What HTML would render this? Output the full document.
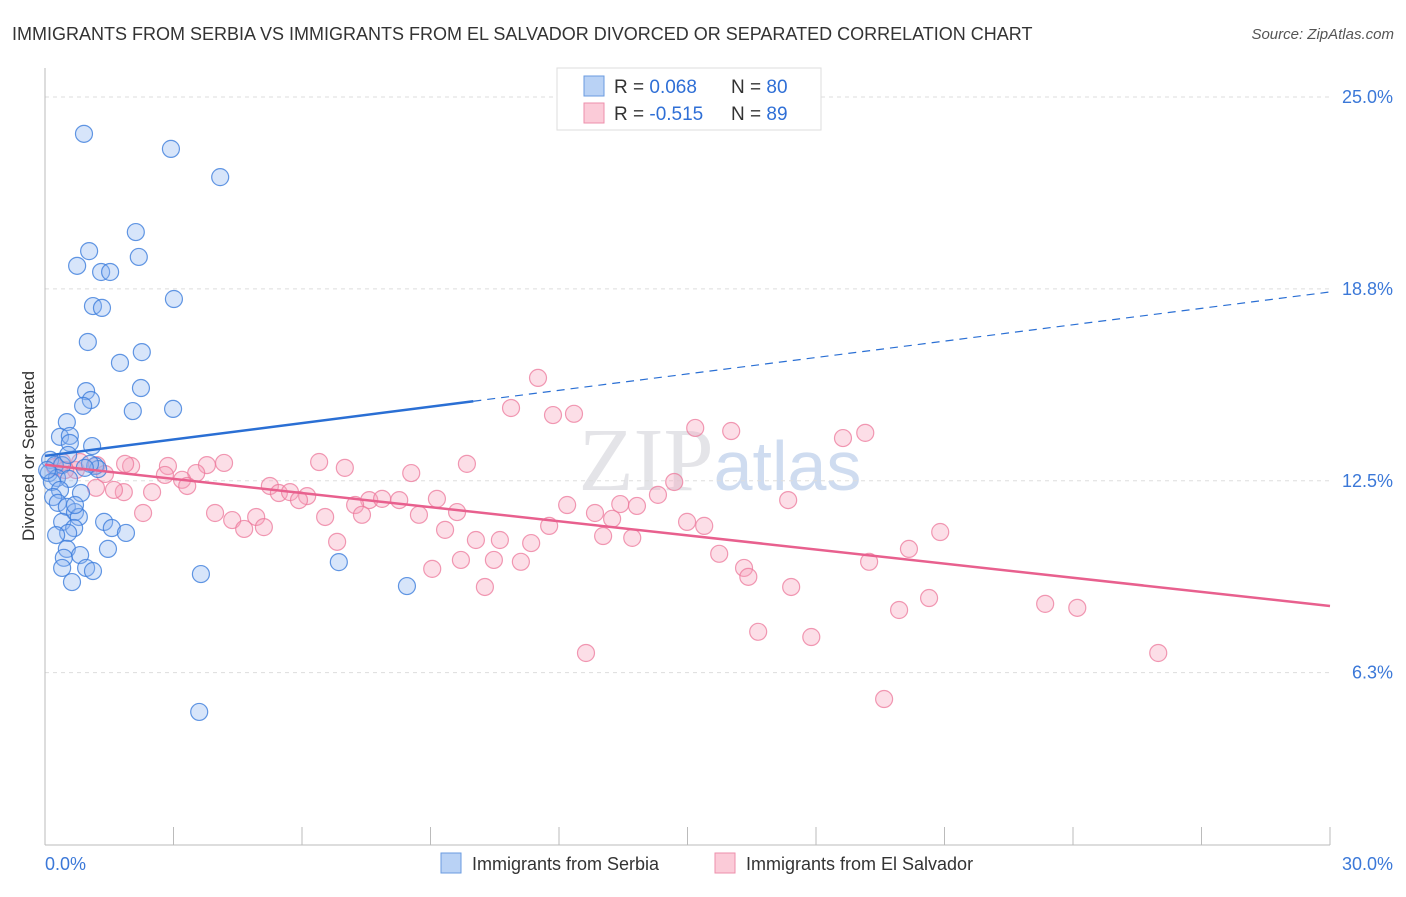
<!DOCTYPE html>
<html><head><meta charset="utf-8"><style>
body{margin:0;background:#fff;font-family:"Liberation Sans",sans-serif}
</style></head><body>
<svg id="c" width="1406" height="892" xmlns="http://www.w3.org/2000/svg">
<text x="12" y="40" font-size="18" fill="#333">IMMIGRANTS FROM SERBIA VS IMMIGRANTS FROM EL SALVADOR DIVORCED OR SEPARATED CORRELATION CHART</text>
<text x="1394" y="39" font-size="15" fill="#555" font-style="italic" text-anchor="end">Source: ZipAtlas.com</text>
<text x="720" y="490" font-size="90" fill="#e4e4e8" text-anchor="middle" font-family="Liberation Serif">ZIP<tspan fill="#cfdcf0" font-family="Liberation Sans" font-size="70">atlas</tspan></text>
<g id="grid"></g><g id="axes"></g><g id="pts"></g><g id="lines"></g>
<text transform="translate(34,456) rotate(-90)" font-size="17" fill="#333" text-anchor="middle">Divorced or Separated</text>
<g>
<rect x="557" y="68" width="264" height="62" fill="#fff" stroke="#ddd"/>
<rect x="584" y="76" width="20" height="20" fill="#b9d2f5" stroke="#6a9be0"/>
<rect x="584" y="103" width="20" height="20" fill="#fbcbd8" stroke="#ee8fab"/>
<text x="614" y="93" font-size="19" fill="#333">R = <tspan fill="#2f6fd6">0.068</tspan><tspan x="731">N = </tspan><tspan fill="#2f6fd6">80</tspan></text>
<text x="614" y="120" font-size="19" fill="#333">R = <tspan fill="#2f6fd6">-0.515</tspan><tspan x="731">N = </tspan><tspan fill="#2f6fd6">89</tspan></text>
</g>
<g>
<rect x="441" y="853" width="20" height="20" fill="#b9d2f5" stroke="#6a9be0"/>
<text x="472" y="870" font-size="18" fill="#333">Immigrants from Serbia</text>
<rect x="715" y="853" width="20" height="20" fill="#fbcbd8" stroke="#ee8fab"/>
<text x="746" y="870" font-size="18" fill="#333">Immigrants from El Salvador</text>
</g>
</svg>
<script>
const yTicks=[25,18.75,12.5,6.25];
const yTickLabels=["25.0%","18.8%","12.5%","6.3%"];
const xLabels=["0.0%","30.0%"];
const serbiaX=[0.91,2.94,4.09,2.12,1.03,2.19,0.75,1.31,1.52,3.01,1.12,1.33,1.00,2.26,1.75,0.96,2.24,1.07,0.89,2.05,2.99,0.51,0.35,0.58,0.58,1.10,0.12,0.23,0.40,1.17,1.24,0.09,0.28,0.56,0.16,0.35,0.84,0.19,0.30,0.51,0.70,0.40,0.79,1.38,1.56,0.68,0.54,0.26,1.89,1.47,0.51,0.44,0.82,0.96,0.40,1.12,0.63,3.64,6.86,8.45,3.60,0.05,1.05,0.70,0.54,0.93];
const serbiaY=[23.8,23.31,22.39,20.6,19.98,19.79,19.5,19.3,19.3,18.42,18.19,18.13,17.02,16.69,16.34,15.42,15.52,15.13,14.94,14.77,14.84,14.41,13.93,13.96,13.73,13.63,13.18,13.01,13.01,12.98,12.88,12.75,12.59,12.56,12.46,12.2,12.1,11.97,11.78,11.65,11.48,11.16,11.32,11.16,10.96,10.96,10.8,10.73,10.8,10.28,10.28,9.99,10.08,9.66,9.66,9.56,9.2,9.46,9.85,9.07,4.97,12.85,13.05,11.71,13.34,12.92];
const salvX=[11.51,10.88,11.86,12.35,15.18,16.02,18.63,19.15,9.85,6.40,7.00,8.55,4.18,3.78,2.87,2.01,1.21,0.40,0.23,0.72,1.40,2.80,3.53,3.20,3.32,5.25,5.46,5.72,6.12,5.93,1.84,1.19,1.61,2.50,7.57,7.87,8.27,7.24,9.15,12.19,13.43,14.31,14.69,17.35,2.29,3.97,4.37,4.65,4.93,5.11,6.54,7.40,8.73,9.62,9.34,12.84,13.24,13.82,14.99,15.39,11.77,13.03,13.71,10.06,10.62,11.35,6.82,9.71,10.48,11.11,15.74,16.32,16.42,19.24,20.17,20.90,9.04,10.27,17.42,19.94,20.64,23.35,24.10,25.99,12.63,16.65,17.89,19.59,1.87,0.47,0.82];
const salvY=[15.85,14.87,14.64,14.68,14.22,14.12,13.89,14.06,13.05,13.11,12.92,12.75,13.08,13.01,12.98,12.98,13.01,13.11,12.95,12.85,12.72,12.69,12.75,12.53,12.33,12.33,12.1,12.13,12.0,11.87,12.13,12.27,12.2,12.13,11.87,11.91,11.87,11.71,11.91,11.71,11.74,12.04,12.46,11.87,11.45,11.45,11.22,10.93,11.32,10.99,11.32,11.39,11.39,11.48,10.9,11.45,11.26,11.68,11.16,11.03,11.03,10.7,10.64,10.57,10.57,10.47,10.51,9.92,9.92,9.86,10.12,9.66,9.37,9.86,10.28,10.83,9.63,9.04,9.04,8.29,8.68,8.49,8.36,6.89,6.89,7.58,7.41,5.39,13.05,12.85,13.11];
const serbiaTrend=[13.31,18.65];
const salvTrend=[13.02,8.42];
const NS="http://www.w3.org/2000/svg";
const X=v=>45+v/30*1285, Y=v=>97+(25-v)*30.7;
function mk(p,t,a){const e=document.createElementNS(NS,t);for(const k in a)e.setAttribute(k,a[k]);document.getElementById(p).appendChild(e);return e;}
yTicks.forEach((t,i)=>{
 const g=mk('grid','line',{x1:45,x2:1330,y1:Y(t),y2:Y(t),stroke:'#ddd','stroke-dasharray':'4,4'});
 
 
 const l=mk('grid','text',{x:1393,y:Y(t)+6,'font-size':18,fill:'#3b78d8','text-anchor':'end'});
 l.textContent=yTickLabels[i];
 
 
});
mk('axes','line',{x1:45,x2:45,y1:68,y2:845,stroke:'#bbb'});
mk('axes','line',{x1:45,x2:1330,y1:845,y2:845,stroke:'#bbb'});
for(let i=0;i<=10;i++){mk('axes','line',{x1:X(i*3),x2:X(i*3),y1:827,y2:845,stroke:'#bbb'});}
const xl0=mk('axes','text',{x:45,y:870,'font-size':18,fill:'#3b78d8'});xl0.textContent=xLabels[0];


const xl1=mk('axes','text',{x:1393,y:870,'font-size':18,fill:'#3b78d8','text-anchor':'end'});xl1.textContent=xLabels[1];


salvX.forEach((x,i)=>{const c=mk('pts','circle',{cx:X(x),cy:Y(salvY[i]),r:8.5,fill:'rgba(246,160,185,0.35)',stroke:'rgba(236,120,155,0.75)','stroke-width':1.2});
 
 });
serbiaX.forEach((x,i)=>{const c=mk('pts','circle',{cx:X(x),cy:Y(serbiaY[i]),r:8.5,fill:'rgba(140,180,240,0.35)',stroke:'rgba(60,125,220,0.8)','stroke-width':1.2});
 
 });
const bs=v=>serbiaTrend[0]+(serbiaTrend[1]-serbiaTrend[0])*v/30;
const l1=mk('lines','line',{x1:X(0),y1:Y(bs(0)),x2:X(10),y2:Y(bs(10)),stroke:'#2a6fd4','stroke-width':2.5});


const l2=mk('lines','line',{x1:X(10),y1:Y(bs(10)),x2:X(30),y2:Y(bs(30)),stroke:'#2a6fd4','stroke-width':1.2,'stroke-dasharray':'8,6'});


const l3=mk('lines','line',{x1:X(0),y1:Y(salvTrend[0]),x2:X(30),y2:Y(salvTrend[1]),stroke:'#e8608e','stroke-width':2.5});


</script>
</body></html>
